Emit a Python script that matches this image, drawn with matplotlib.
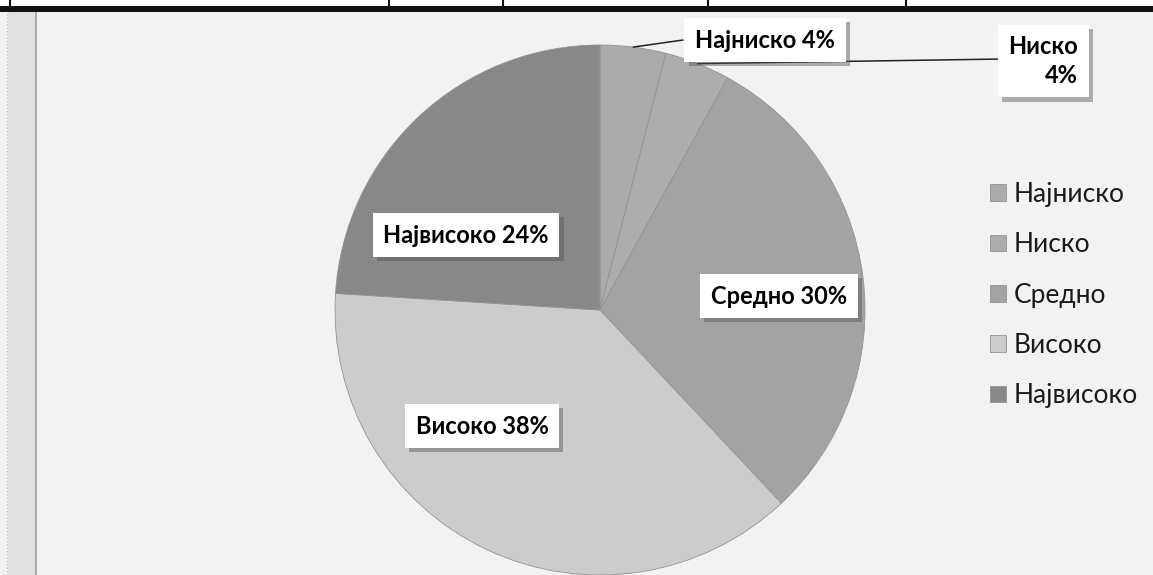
import matplotlib
matplotlib.use("Agg")
import matplotlib.pyplot as plt
import matplotlib.patheffects as pe
from matplotlib.lines import Line2D
from matplotlib.patches import Rectangle
import numpy as np

# Data
categories = ["Најниско", "Ниско", "Средно", "Високо", "Највисоко"]
shares = [4, 4, 30, 38, 24]
slice_labels = ["Најниско 4%", "Ниско\n4%", "Средно 30%", "Високо 38%", "Највисоко 24%"]
colors = ["#ababab", "#adadad", "#a3a3a3", "#cccccc", "#888888"]

W, H = 1153, 575
fig = plt.figure(figsize=(W / 100, H / 100), dpi=100)
fig.patch.set_facecolor("#f2f2f2")

BOLD = dict(family=["Lato", "DejaVu Sans"], weight="bold")
REG = dict(family=["Lato", "DejaVu Sans"])


def fx(px):
    return px / W


def fy(py):
    return 1 - py / H


# Left page strip
fig.add_artist(Rectangle((fx(8), 0), fx(28), fy(12), transform=fig.transFigure,
                         facecolor="#e2e2e2", edgecolor="none", zorder=0))
fig.add_artist(Line2D([fx(36), fx(36)], [0, fy(12)], transform=fig.transFigure,
                      color="#a0a0a0", lw=1.2, zorder=1))
fig.add_artist(Line2D([fx(7), fx(7)], [0, fy(12)], transform=fig.transFigure,
                      color="#b5b5b5", lw=0.8, ls=(0, (1, 2)), zorder=1))

# Table border along the top
fig.add_artist(Rectangle((0, fy(12)), 1, fy(0) - fy(12), transform=fig.transFigure,
                         facecolor="white", edgecolor="none", zorder=1))
fig.add_artist(Rectangle((0, fy(12)), 1, fy(6) - fy(12), transform=fig.transFigure,
                         facecolor="#111111", edgecolor="none", zorder=2))
for xv in [10, 389, 503, 708, 906]:
    fig.add_artist(Line2D([fx(xv), fx(xv)], [fy(0), fy(6)], transform=fig.transFigure,
                          color="#111111", lw=1.5, zorder=2))

# Pie: centre (600, 310) px, radius 265 px
cx, cy, r = 600, 310, 265
ax = fig.add_axes([fx(cx - r), fy(cy + r), (2 * r) / W, (2 * r) / H])
ax.set_facecolor("none")
wedges, _ = ax.pie(shares, colors=colors, startangle=90, counterclock=False,
                   radius=1.0,
                   wedgeprops=dict(edgecolor="#939393", linewidth=0.6))
ax.set_xlim(-1, 1)
ax.set_ylim(-1, 1)
ax.set_aspect("equal")
ax.axis("off")

shadow = [pe.SimplePatchShadow(offset=(3, -3), shadow_rgbFace="#555555", alpha=0.45),
          pe.Normal()]


def edge_point(w):
    ang = np.deg2rad((w.theta1 + w.theta2) / 2)
    return np.cos(ang), np.sin(ang)


# label positions in pixels (text centre)
label_px = [(765, 40), (1043, 61), (779, 296), (482, 426), (466, 235)]
leader = [True, True, False, False, False]
leader_end = [(683, 40), (1003, 59), None, None, None]
align = ["center", "right", "center", "center", "center"]

for w, lab, (lx, ly), has_leader, end, al in zip(wedges, slice_labels, label_px,
                                                  leader, leader_end, align):
    t = fig.text(fx(lx), fy(ly), lab, ha="center", va="center", fontsize=17,
                 multialignment=al, linespacing=1.3, zorder=6,
                 bbox=dict(boxstyle="square,pad=0.45", facecolor="white",
                           edgecolor="none"), **BOLD)
    t.get_bbox_patch().set_path_effects(shadow)
    if has_leader:
        px_, py_ = edge_point(w)
        ex, ey = end
        ax.annotate("", xy=(px_, py_), xycoords="data",
                    xytext=(fx(ex), fy(ey)), textcoords="figure fraction",
                    arrowprops=dict(arrowstyle="-", color="#222222", lw=1.1,
                                    shrinkA=0, shrinkB=0),
                    zorder=5)

leg = fig.legend(wedges, categories, loc="upper left",
                 bbox_to_anchor=(fx(990), fy(182)), frameon=False,
                 handlelength=0.6, handleheight=0.6, handletextpad=0.3,
                 labelspacing=0.96, borderpad=0, borderaxespad=0,
                 prop=dict(size=19, **REG))
for txt in leg.get_texts():
    txt.set_color("#1a1a1a")

fig.savefig("out.png", dpi=100, facecolor=fig.get_facecolor())
